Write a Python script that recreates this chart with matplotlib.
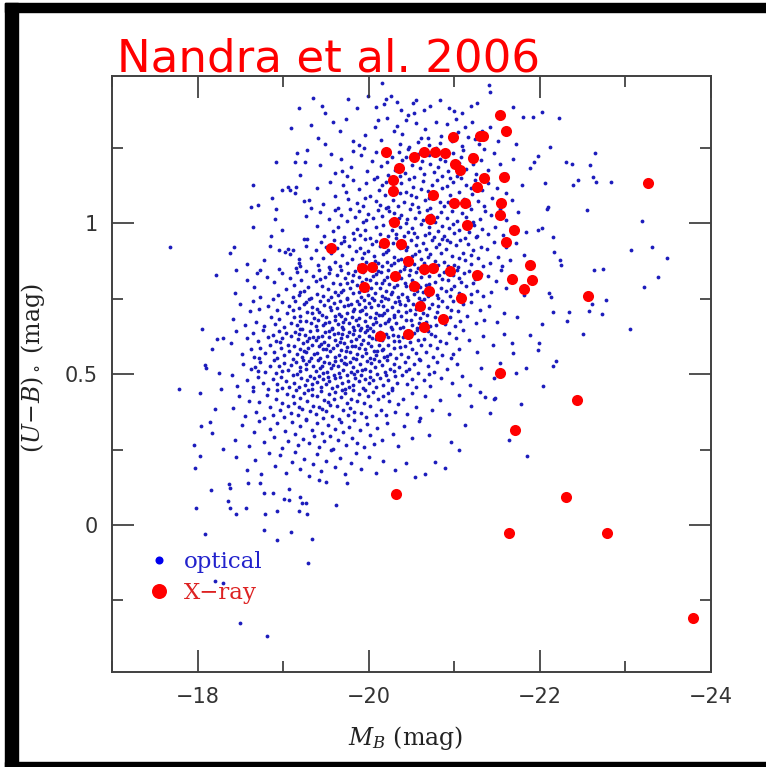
import matplotlib
matplotlib.use("Agg")
import matplotlib.pyplot as plt
import numpy as np
from matplotlib.lines import Line2D
from matplotlib.patches import Rectangle
from matplotlib.ticker import MultipleLocator, FuncFormatter

# optical galaxies (M_B, U-B)
optical_top = [
    (-20.16,1.464),(-21.41,1.458),(-21.42,1.436),(-19.35,1.416),(-19.76,1.412),(-19.99,1.423),
    (-20.20,1.412),(-20.26,1.423),(-20.33,1.403),(-19.18,1.382),(-19.45,1.389),(-19.86,1.382),
    (-20.09,1.386),(-20.18,1.395),(-20.38,1.376),(-20.53,1.366),(-20.46,1.359),(-20.65,1.376),
    (-20.72,1.389),(-20.94,1.383),(-21.00,1.372),(-21.09,1.367),(-21.20,1.389),(-21.26,1.399),
    (-21.69,1.386),(-22.03,1.369),(-22.23,1.349),(-21.80,1.352),(-20.55,1.409),(-20.83,1.409),
    (-19.49,1.366),(-20.52,1.399),(-22.12,1.253),(-21.92,1.352),
]

optical_upper = [
    (-19.41,1.283),(-19.58,1.334),(-19.49,1.262),(-19.66,1.307),(-19.81,1.271),(-19.73,1.346),
    (-19.89,1.258),(-20.07,1.319),(-19.96,1.292),(-20.11,1.341),(-20.14,1.276),(-20.29,1.305),
    (-20.21,1.349),(-20.36,1.263),(-20.33,1.322),(-20.39,1.297),(-20.47,1.254),(-20.55,1.331),
    (-20.61,1.284),(-20.44,1.343),(-20.58,1.268),(-20.66,1.312),(-20.71,1.259),(-20.79,1.337),
    (-20.85,1.289),(-20.69,1.281),(-20.83,1.266),(-20.92,1.328),(-20.97,1.272),(-21.04,1.301),
    (-21.09,1.256),(-21.02,1.345),(-21.12,1.318),(-21.16,1.287),(-21.21,1.335),(-21.29,1.262),
    (-21.33,1.306),(-21.24,1.279),(-21.42,1.318),(-21.51,1.271),(-21.61,1.296),(-21.72,1.264),
    (-19.43,1.193),(-19.56,1.228),(-19.61,1.167),(-19.67,1.214),(-19.74,1.158),(-19.82,1.241),
    (-19.79,1.186),(-19.69,1.172),(-19.91,1.226),(-19.98,1.174),(-20.04,1.207),(-20.10,1.152),
    (-19.94,1.248),(-20.08,1.235),(-20.14,1.189),(-20.18,1.243),(-20.23,1.161),(-20.27,1.218),
    (-20.31,1.178),(-20.35,1.236),(-20.21,1.203),(-20.37,1.157),(-20.39,1.211),(-20.42,1.166),
    (-20.46,1.246),(-20.50,1.194),(-20.53,1.153),(-20.57,1.229),(-20.60,1.182),(-20.44,1.221),
    (-20.62,1.207),(-20.64,1.163),(-20.68,1.238),(-20.72,1.197),(-20.76,1.171),(-20.79,1.249),
    (-20.83,1.213),(-20.86,1.158),(-20.70,1.226),(-20.81,1.185),(-20.89,1.207),(-20.93,1.173),
    (-20.98,1.232),(-21.03,1.155),(-21.06,1.199),(-21.10,1.244),(-20.95,1.151),(-21.08,1.218),
    (-21.14,1.181),(-21.19,1.227),(-21.25,1.164),(-21.31,1.209),(-21.35,1.246),(-21.22,1.196),
    (-21.40,1.176),(-21.46,1.233),(-21.54,1.198),(-21.60,1.162),(-21.69,1.214),
    (-19.40,1.118),(-19.47,1.064),(-19.55,1.137),(-19.60,1.089),(-19.64,1.052),(-19.70,1.126),
    (-19.76,1.081),(-19.81,1.143),(-19.86,1.067),(-19.73,1.104),(-19.89,1.115),(-19.93,1.058),
    (-19.97,1.132),(-20.01,1.091),(-20.06,1.147),(-20.09,1.073),(-20.12,1.109),(-19.95,1.084),
    (-20.13,1.061),(-20.16,1.128),(-20.19,1.095),(-20.22,1.054),(-20.25,1.141),(-20.28,1.077),
    (-20.31,1.118),(-20.34,1.058),(-20.36,1.099),(-20.20,1.136),(-20.38,1.134),(-20.41,1.071),
    (-20.44,1.102),(-20.47,1.146),(-20.50,1.063),(-20.52,1.121),(-20.55,1.087),(-20.58,1.053),
    (-20.61,1.113),(-20.49,1.094),(-20.63,1.139),(-20.66,1.076),(-20.69,1.108),(-20.72,1.052),
    (-20.74,1.127),(-20.77,1.091),(-20.80,1.145),(-20.83,1.069),(-20.86,1.116),(-20.71,1.083),
    (-20.88,1.057),(-20.91,1.124),(-20.95,1.093),(-20.98,1.138),(-21.02,1.068),(-21.05,1.103),
    (-21.08,1.149),(-21.11,1.081),(-20.93,1.072),(-21.14,1.128),(-21.17,1.061),(-21.21,1.097),
    (-21.24,1.142),(-21.28,1.074),(-21.32,1.111),(-21.35,1.056),(-21.19,1.118),(-21.39,1.132),
    (-21.44,1.083),(-21.50,1.117),(-21.55,1.059),(-21.61,1.101),(-21.67,1.076),(-21.79,1.128),
    (-19.39,0.992),(-19.43,1.036),(-19.48,0.958),(-19.53,1.013),(-19.58,0.974),(-19.61,1.045),
    (-19.64,0.987),(-19.67,1.028),(-19.71,0.953),(-19.74,1.008),(-19.78,1.047),(-19.81,0.969),
    (-19.84,1.021),(-19.86,0.981),(-19.88,1.039),(-19.90,0.961),(-19.93,1.004),(-19.96,0.977),
    (-19.99,1.032),(-20.02,0.952),(-20.05,1.016),(-20.08,0.989),(-20.11,1.043),(-19.97,1.011),
    (-20.13,0.966),(-20.15,1.024),(-20.17,0.994),(-20.20,1.049),(-20.22,0.957),(-20.25,1.007),
    (-20.27,0.978),(-20.30,1.035),(-20.32,0.963),(-20.35,1.018),(-20.37,0.986),(-20.24,1.041),
    (-20.38,1.028),(-20.41,0.959),(-20.43,1.002),(-20.46,0.972),(-20.48,1.046),(-20.51,0.983),
    (-20.54,1.019),(-20.56,0.954),(-20.59,1.037),(-20.61,0.996),(-20.45,1.013),(-20.53,0.968),
    (-20.63,1.011),(-20.66,0.962),(-20.68,1.044),(-20.71,0.988),(-20.73,1.026),(-20.76,0.956),
    (-20.78,1.003),(-20.81,0.975),(-20.84,1.038),(-20.86,0.991),(-20.70,0.969),(-20.80,1.021),
    (-20.88,0.958),(-20.91,1.017),(-20.94,0.984),(-20.97,1.042),(-21.00,0.967),(-21.03,1.009),
    (-21.06,0.979),(-21.09,1.034),(-21.12,0.952),(-20.99,0.998),(-21.14,1.022),(-21.17,0.971),
    (-21.20,1.046),(-21.23,0.993),(-21.27,0.958),(-21.30,1.014),(-21.33,0.981),(-21.36,1.039),
    (-21.22,1.003),(-21.39,0.966),(-21.43,1.027),(-21.48,0.989),(-21.53,1.048),(-21.57,0.961),
    (-21.61,1.012),(-21.66,0.983),(-21.74,1.036),(-21.84,0.972),
    (-19.38,0.912),(-19.41,0.863),(-19.44,0.937),(-19.47,0.884),(-19.50,0.921),(-19.53,0.856),
    (-19.56,0.903),(-19.59,0.944),(-19.61,0.872),(-19.63,0.917),(-19.66,0.858),(-19.69,0.894),
    (-19.71,0.941),(-19.74,0.868),(-19.77,0.926),(-19.80,0.881),(-19.83,0.948),(-19.85,0.907),
    (-19.68,0.933),(-19.88,0.862),(-19.90,0.918),(-19.92,0.886),(-19.95,0.947),(-19.97,0.871),
    (-19.99,0.909),(-20.02,0.853),(-20.04,0.931),(-20.06,0.893),(-20.09,0.942),(-20.11,0.867),
    (-19.94,0.902),(-20.07,0.876),(-20.13,0.924),(-20.15,0.857),(-20.17,0.899),(-20.19,0.945),
    (-20.21,0.873),(-20.23,0.913),(-20.26,0.861),(-20.28,0.936),(-20.30,0.889),(-20.32,0.951),
    (-20.34,0.878),(-20.36,0.919),(-20.20,0.904),(-20.29,0.868),(-20.38,0.883),(-20.40,0.939),
    (-20.42,0.859),(-20.44,0.911),(-20.46,0.874),(-20.49,0.946),(-20.51,0.893),(-20.53,0.866),
    (-20.55,0.928),(-20.57,0.852),(-20.59,0.907),(-20.61,0.881),(-20.45,0.922),(-20.54,0.898),
    (-20.63,0.936),(-20.65,0.869),(-20.67,0.914),(-20.70,0.854),(-20.72,0.897),(-20.74,0.943),
    (-20.77,0.876),(-20.79,0.921),(-20.81,0.862),(-20.84,0.903),(-20.86,0.949),(-20.69,0.887),
    (-20.82,0.931),(-20.88,0.871),(-20.90,0.916),(-20.93,0.858),(-20.95,0.938),(-20.97,0.892),
    (-21.00,0.863),(-21.02,0.927),(-21.05,0.884),(-21.07,0.946),(-21.10,0.901),(-20.92,0.943),
    (-21.04,0.856),(-21.13,0.877),(-21.16,0.932),(-21.19,0.866),(-21.22,0.911),(-21.25,0.953),
    (-21.28,0.885),(-21.31,0.923),(-21.34,0.859),(-21.20,0.896),(-21.38,0.914),(-21.42,0.867),
    (-21.47,0.938),(-21.51,0.889),(-21.56,0.857),(-21.60,0.921),(-21.65,0.879),(-21.72,0.934),
    (-21.82,0.894),
    (-18.38,0.90),(-18.42,0.92),(-18.57,0.865),(-18.45,0.845),(-18.21,0.83),(-18.62,1.054),
    (-18.71,1.06),(-18.64,0.988),(-18.73,0.845),(-18.78,0.878),(-18.86,0.958),(-18.92,1.047),
    (-18.90,1.014),(-18.87,1.084),(-18.99,0.978),(-18.98,1.11),(-19.06,1.12),(-19.08,1.11),
    (-19.14,1.10),(-19.15,1.12),(-19.19,1.16),(-18.91,1.203),(-19.14,1.203),(-19.25,1.203),
    (-19.28,1.243),(-19.16,1.233),(-18.65,1.127),(-19.09,1.316),(-19.32,1.326),(-17.67,0.921),
    (-19.24,1.074),(-19.26,1.024),(-19.30,1.077),(-19.32,1.05),(-19.24,0.948),(-19.28,0.948),
    (-19.27,0.925),(-18.95,0.91),(-19.02,0.905),(-19.11,0.91),(-19.08,0.898),(-19.06,0.915),
    (-19.18,0.88),(-19.20,0.858),(-19.15,0.852),(-19.18,0.868),(-18.95,0.85),(-19.32,0.885),
    (-18.84,0.925),
]

optical_core = [
    (-18.44,0.768),(-18.58,0.812),(-18.66,0.789),(-18.73,0.754),(-18.81,0.823),(-18.69,0.836),
    (-18.89,0.807),(-18.94,0.762),(-18.99,0.834),(-19.03,0.781),(-19.08,0.819),(-19.11,0.757),
    (-19.13,0.796),(-19.16,0.838),(-19.18,0.763),(-19.21,0.812),(-19.24,0.775),(-19.27,0.841),
    (-19.29,0.788),(-19.32,0.752),(-19.35,0.826),(-19.20,0.771),(-19.38,0.809),(-19.40,0.767),
    (-19.42,0.844),(-19.45,0.792),(-19.47,0.758),(-19.49,0.823),(-19.52,0.781),(-19.54,0.836),
    (-19.56,0.754),(-19.58,0.801),(-19.60,0.772),(-19.43,0.816),(-19.55,0.848),(-19.63,0.827),
    (-19.64,0.763),(-19.66,0.798),(-19.68,0.846),(-19.70,0.779),(-19.72,0.817),(-19.74,0.751),
    (-19.76,0.834),(-19.78,0.786),(-19.80,0.809),(-19.82,0.768),(-19.84,0.842),(-19.86,0.794),
    (-19.67,0.771),(-19.75,0.803),(-19.81,0.829),(-19.88,0.772),(-19.89,0.821),(-19.91,0.757),
    (-19.93,0.839),(-19.95,0.793),(-19.97,0.814),(-19.99,0.762),(-20.01,0.848),(-20.03,0.787),
    (-20.05,0.826),(-20.07,0.769),(-20.09,0.803),(-20.11,0.841),(-19.92,0.806),(-19.98,0.778),
    (-20.04,0.753),(-20.08,0.832),(-20.02,0.811),(-20.13,0.784),(-20.14,0.837),(-20.16,0.758),
    (-20.18,0.811),(-20.20,0.776),(-20.22,0.846),(-20.24,0.798),(-20.26,0.764),(-20.28,0.829),
    (-20.30,0.789),(-20.32,0.817),(-20.34,0.755),(-20.36,0.843),(-20.15,0.802),(-20.21,0.823),
    (-20.27,0.771),(-20.33,0.794),(-20.19,0.751),(-20.38,0.818),(-20.39,0.766),(-20.41,0.849),
    (-20.43,0.791),(-20.45,0.757),(-20.47,0.827),(-20.49,0.781),(-20.51,0.812),(-20.53,0.764),
    (-20.55,0.838),(-20.57,0.795),(-20.59,0.751),(-20.61,0.821),(-20.42,0.803),(-20.48,0.846),
    (-20.56,0.774),(-20.60,0.788),(-20.63,0.772),(-20.65,0.835),(-20.67,0.796),(-20.69,0.758),
    (-20.71,0.824),(-20.73,0.781),(-20.76,0.847),(-20.78,0.807),(-20.80,0.763),(-20.82,0.829),
    (-20.84,0.785),(-20.86,0.816),(-20.70,0.799),(-20.81,0.751),(-20.88,0.837),(-20.90,0.776),
    (-20.93,0.813),(-20.95,0.759),(-20.98,0.828),(-21.00,0.792),(-21.03,0.845),(-21.05,0.768),
    (-21.08,0.806),(-21.11,0.834),(-20.96,0.783),(-21.06,0.819),(-21.14,0.791),(-21.17,0.842),
    (-21.20,0.765),(-21.24,0.814),(-21.27,0.777),(-21.31,0.831),(-21.34,0.758),(-21.22,0.803),
    (-21.39,0.824),(-21.43,0.771),(-21.49,0.809),(-21.55,0.846),(-21.60,0.785),(-21.68,0.816),
    (-21.81,0.763),
    (-18.41,0.682),(-18.49,0.731),(-18.55,0.664),(-18.61,0.708),(-18.64,0.743),(-18.68,0.673),
    (-18.72,0.716),(-18.77,0.658),(-18.82,0.727),(-18.86,0.691),(-18.88,0.749),(-18.90,0.667),
    (-18.93,0.712),(-18.95,0.684),(-18.98,0.738),(-19.01,0.656),(-19.04,0.701),(-19.07,0.726),
    (-19.09,0.671),(-19.11,0.714),(-19.13,0.688),(-19.14,0.744),(-19.16,0.662),(-19.18,0.719),
    (-19.20,0.693),(-19.22,0.651),(-19.24,0.733),(-19.26,0.677),(-19.28,0.706),(-19.30,0.748),
    (-19.32,0.668),(-19.34,0.722),(-19.36,0.686),(-19.19,0.676),(-19.27,0.739),(-19.33,0.701),
    (-19.38,0.658),(-19.39,0.716),(-19.41,0.681),(-19.43,0.741),(-19.45,0.697),(-19.47,0.663),
    (-19.48,0.728),(-19.50,0.689),(-19.52,0.747),(-19.54,0.672),(-19.56,0.711),(-19.57,0.654),
    (-19.59,0.736),(-19.61,0.694),(-19.42,0.706),(-19.49,0.669),(-19.55,0.723),(-19.60,0.681),
    (-19.63,0.719),(-19.64,0.666),(-19.66,0.742),(-19.67,0.692),(-19.69,0.657),(-19.71,0.726),
    (-19.72,0.684),(-19.74,0.749),(-19.75,0.703),(-19.77,0.671),(-19.79,0.734),(-19.80,0.689),
    (-19.82,0.655),(-19.83,0.717),(-19.85,0.678),(-19.86,0.744),(-19.65,0.698),(-19.70,0.673),
    (-19.76,0.728),(-19.81,0.708),(-19.87,0.662),(-19.88,0.731),(-19.89,0.687),(-19.91,0.652),
    (-19.92,0.712),(-19.94,0.746),(-19.95,0.676),(-19.97,0.699),(-19.98,0.661),(-20.00,0.737),
    (-20.02,0.691),(-20.03,0.723),(-20.05,0.667),(-20.06,0.745),(-20.08,0.704),(-20.09,0.674),
    (-20.11,0.729),(-19.90,0.708),(-19.96,0.721),(-20.01,0.653),(-20.07,0.686),(-20.12,0.696),
    (-20.13,0.662),(-20.14,0.741),(-20.16,0.695),(-20.17,0.727),(-20.19,0.668),(-20.21,0.712),
    (-20.22,0.749),(-20.24,0.683),(-20.26,0.656),(-20.27,0.721),(-20.29,0.697),(-20.31,0.738),
    (-20.32,0.671),(-20.34,0.709),(-20.36,0.653),(-20.37,0.731),(-20.18,0.704),(-20.23,0.676),
    (-20.30,0.688),(-20.35,0.744),(-20.38,0.694),(-20.40,0.657),(-20.42,0.728),(-20.44,0.681),
    (-20.46,0.746),(-20.48,0.712),(-20.50,0.664),(-20.52,0.733),(-20.54,0.698),(-20.56,0.652),
    (-20.58,0.721),(-20.60,0.687),(-20.61,0.742),(-20.43,0.706),(-20.49,0.679),(-20.55,0.716),
    (-20.59,0.669),(-20.63,0.703),(-20.65,0.748),(-20.67,0.672),(-20.70,0.719),(-20.72,0.658),
    (-20.74,0.734),(-20.77,0.691),(-20.79,0.664),(-20.81,0.727),(-20.84,0.685),(-20.86,0.742),
    (-20.68,0.696),(-20.80,0.706),(-20.89,0.667),(-20.92,0.724),(-20.95,0.688),(-20.98,0.741),
    (-21.01,0.659),(-21.04,0.709),(-21.07,0.676),(-21.10,0.732),(-20.96,0.713),(-21.15,0.693),
    (-21.20,0.739),(-21.25,0.668),(-21.30,0.714),(-21.35,0.681),(-21.41,0.726),(-21.50,0.674),
    (-21.58,0.703),(-21.73,0.688),
    (-18.39,0.604),(-18.45,0.642),(-18.52,0.566),(-18.57,0.621),(-18.62,0.583),(-18.64,0.638),
    (-18.66,0.557),(-18.70,0.611),(-18.73,0.587),(-18.76,0.646),(-18.79,0.571),(-18.82,0.624),
    (-18.85,0.596),(-18.72,0.553),(-18.88,0.631),(-18.89,0.574),(-18.91,0.609),(-18.93,0.553),
    (-18.95,0.644),(-18.97,0.588),(-18.99,0.619),(-19.01,0.562),(-19.03,0.637),(-19.05,0.596),
    (-19.07,0.578),(-19.09,0.627),(-19.11,0.551),(-18.96,0.607),(-19.13,0.592),(-19.14,0.641),
    (-19.16,0.567),(-19.17,0.616),(-19.19,0.584),(-19.20,0.648),(-19.22,0.556),(-19.23,0.603),
    (-19.25,0.629),(-19.26,0.572),(-19.28,0.611),(-19.29,0.587),(-19.31,0.643),(-19.32,0.553),
    (-19.34,0.598),(-19.35,0.624),(-19.36,0.566),(-19.18,0.634),(-19.24,0.578),(-19.30,0.619),
    (-19.38,0.613),(-19.39,0.571),(-19.40,0.646),(-19.42,0.594),(-19.43,0.552),(-19.45,0.628),
    (-19.46,0.583),(-19.48,0.607),(-19.49,0.639),(-19.51,0.561),(-19.52,0.598),(-19.54,0.622),
    (-19.55,0.576),(-19.57,0.649),(-19.58,0.588),(-19.60,0.614),(-19.61,0.557),(-19.41,0.622),
    (-19.44,0.601),(-19.50,0.584),(-19.53,0.644),(-19.59,0.632),(-19.63,0.597),(-19.64,0.636),
    (-19.65,0.562),(-19.67,0.619),(-19.68,0.581),(-19.70,0.648),(-19.71,0.603),(-19.72,0.557),
    (-19.74,0.627),(-19.75,0.589),(-19.77,0.641),(-19.78,0.572),(-19.79,0.611),(-19.81,0.552),
    (-19.82,0.633),(-19.84,0.594),(-19.85,0.618),(-19.86,0.568),(-19.66,0.606),(-19.69,0.633),
    (-19.73,0.578),(-19.80,0.592),(-19.83,0.647),(-19.88,0.628),(-19.89,0.587),(-19.90,0.646),
    (-19.92,0.559),(-19.93,0.612),(-19.95,0.584),(-19.96,0.639),(-19.97,0.571),(-19.99,0.603),
    (-20.00,0.626),(-20.02,0.554),(-20.03,0.593),(-20.05,0.644),(-20.06,0.577),(-20.08,0.616),
    (-20.09,0.562),(-20.11,0.631),(-20.12,0.598),(-19.91,0.601),(-19.98,0.647),(-20.04,0.621),
    (-20.10,0.576),(-20.13,0.641),(-20.15,0.579),(-20.16,0.613),(-20.18,0.556),(-20.20,0.634),
    (-20.22,0.597),(-20.23,0.622),(-20.25,0.566),(-20.27,0.648),(-20.29,0.588),(-20.30,0.609),
    (-20.32,0.553),(-20.34,0.627),(-20.36,0.591),(-20.17,0.584),(-20.21,0.561),(-20.28,0.631),
    (-20.35,0.609),(-20.38,0.567),(-20.40,0.623),(-20.42,0.594),(-20.44,0.641),(-20.46,0.558),
    (-20.48,0.607),(-20.50,0.582),(-20.53,0.636),(-20.55,0.571),(-20.57,0.614),(-20.59,0.551),
    (-20.61,0.598),(-20.47,0.629),(-20.56,0.647),(-20.64,0.618),(-20.67,0.574),(-20.69,0.642),
    (-20.72,0.596),(-20.75,0.556),(-20.77,0.627),(-20.80,0.587),(-20.83,0.611),(-20.86,0.564),
    (-20.73,0.634),(-20.90,0.603),(-20.94,0.637),(-20.98,0.568),(-21.02,0.619),(-21.06,0.584),
    (-21.10,0.646),(-20.96,0.552),(-21.17,0.612),(-21.26,0.573),(-21.34,0.628),(-21.45,0.596),
    (-21.58,0.634),
    (-18.40,0.497),(-18.46,0.462),(-18.53,0.534),(-18.58,0.481),(-18.62,0.518),(-18.64,0.456),
    (-18.67,0.523),(-18.70,0.489),(-18.73,0.541),(-18.76,0.472),(-18.79,0.506),(-18.82,0.451),
    (-18.85,0.528),(-18.71,0.512),(-18.88,0.484),(-18.89,0.547),(-18.91,0.503),(-18.93,0.468),
    (-18.95,0.526),(-18.97,0.491),(-18.99,0.453),(-19.01,0.538),(-19.03,0.477),(-19.05,0.514),
    (-19.07,0.459),(-19.09,0.531),(-19.11,0.496),(-18.98,0.512),(-19.13,0.472),(-19.15,0.539),
    (-19.16,0.501),(-19.18,0.457),(-19.20,0.524),(-19.21,0.486),(-19.23,0.548),(-19.25,0.463),
    (-19.26,0.517),(-19.28,0.479),(-19.30,0.543),(-19.31,0.494),(-19.33,0.452),(-19.35,0.528),
    (-19.36,0.488),(-19.19,0.509),(-19.27,0.532),(-19.34,0.468),(-19.38,0.512),(-19.39,0.474),
    (-19.41,0.546),(-19.42,0.493),(-19.44,0.458),(-19.45,0.527),(-19.47,0.483),(-19.48,0.541),
    (-19.50,0.467),(-19.51,0.508),(-19.53,0.536),(-19.54,0.476),(-19.56,0.519),(-19.57,0.453),
    (-19.59,0.498),(-19.60,0.544),(-19.61,0.487),(-19.43,0.519),(-19.46,0.504),(-19.52,0.491),
    (-19.58,0.529),(-19.63,0.462),(-19.64,0.526),(-19.66,0.489),(-19.67,0.547),(-19.69,0.471),
    (-19.70,0.513),(-19.72,0.452),(-19.73,0.534),(-19.75,0.496),(-19.76,0.478),(-19.78,0.541),
    (-19.79,0.506),(-19.81,0.464),(-19.82,0.523),(-19.84,0.487),(-19.85,0.549),(-19.86,0.509),
    (-19.65,0.503),(-19.71,0.537),(-19.77,0.459),(-19.83,0.501),(-19.88,0.476),(-19.90,0.532),
    (-19.91,0.497),(-19.93,0.455),(-19.95,0.518),(-19.96,0.484),(-19.98,0.545),(-20.00,0.469),
    (-20.02,0.511),(-20.03,0.537),(-20.05,0.481),(-20.07,0.523),(-20.08,0.458),(-20.10,0.502),
    (-20.12,0.544),(-19.92,0.514),(-20.01,0.492),(-20.06,0.549),(-20.13,0.487),(-20.15,0.529),
    (-20.17,0.463),(-20.19,0.508),(-20.21,0.546),(-20.23,0.479),(-20.25,0.517),(-20.27,0.454),
    (-20.29,0.535),(-20.31,0.493),(-20.33,0.472),(-20.35,0.524),(-20.20,0.498),(-20.30,0.511),
    (-20.39,0.496),(-20.42,0.541),(-20.45,0.468),(-20.47,0.518),(-20.50,0.483),(-20.53,0.533),
    (-20.55,0.457),(-20.58,0.504),(-20.60,0.546),(-20.44,0.511),(-20.65,0.479),(-20.69,0.526),
    (-20.72,0.462),(-20.76,0.508),(-20.80,0.541),(-20.84,0.486),(-20.70,0.499),(-20.91,0.517),
    (-20.97,0.471),(-21.03,0.532),(-21.09,0.494),(-21.18,0.463),(-21.31,0.519),(-21.46,0.488),
]

optical_lower = [
    (-18.41,0.387),(-18.48,0.426),(-18.55,0.362),(-18.60,0.411),(-18.64,0.443),(-18.68,0.374),
    (-18.72,0.408),(-18.77,0.356),(-18.81,0.431),(-18.85,0.392),(-18.88,0.364),(-18.91,0.418),
    (-18.93,0.447),(-18.96,0.381),(-18.98,0.403),(-19.01,0.357),(-19.04,0.434),(-19.06,0.396),
    (-19.09,0.371),(-19.11,0.426),(-19.13,0.403),(-19.15,0.448),(-19.17,0.366),(-19.20,0.421),
    (-19.22,0.384),(-19.24,0.439),(-19.26,0.353),(-19.28,0.412),(-19.31,0.377),(-19.33,0.431),
    (-19.35,0.395),(-19.18,0.392),(-19.29,0.446),(-19.38,0.368),(-19.40,0.427),(-19.42,0.391),
    (-19.44,0.445),(-19.46,0.356),(-19.48,0.413),(-19.50,0.379),(-19.53,0.434),(-19.55,0.398),
    (-19.57,0.362),(-19.59,0.418),(-19.61,0.441),(-19.45,0.386),(-19.52,0.407),(-19.63,0.393),
    (-19.65,0.352),(-19.67,0.424),(-19.70,0.381),(-19.72,0.437),(-19.74,0.404),(-19.76,0.365),
    (-19.79,0.419),(-19.81,0.448),(-19.83,0.376),(-19.86,0.411),(-19.69,0.447),(-19.78,0.389),
    (-19.88,0.433),(-19.91,0.371),(-19.94,0.406),(-19.97,0.358),(-19.99,0.428),(-20.02,0.393),
    (-20.05,0.441),(-20.08,0.364),(-20.11,0.416),(-19.96,0.449),(-20.14,0.381),(-20.17,0.429),
    (-20.20,0.364),(-20.24,0.411),(-20.27,0.446),(-20.31,0.373),(-20.34,0.402),(-20.22,0.437),
    (-20.40,0.419),(-20.45,0.367),(-20.50,0.438),(-20.55,0.391),(-20.60,0.354),(-20.66,0.427),
    (-20.74,0.382),(-20.83,0.413),(-20.94,0.368),(-21.06,0.431),(-21.20,0.394),
    (-18.43,0.283),(-18.52,0.331),(-18.60,0.262),(-18.66,0.307),(-18.72,0.346),(-18.78,0.274),
    (-18.84,0.318),(-18.89,0.291),(-18.93,0.338),(-18.98,0.256),(-19.02,0.313),(-19.06,0.279),
    (-19.10,0.342),(-19.14,0.302),(-19.17,0.264),(-19.20,0.327),(-19.23,0.286),(-19.27,0.349),
    (-19.30,0.271),(-19.33,0.316),(-19.36,0.295),(-19.39,0.338),(-19.42,0.259),(-19.45,0.305),
    (-19.48,0.277),(-19.52,0.331),(-19.55,0.294),(-19.58,0.253),(-19.61,0.319),(-19.64,0.282),
    (-19.67,0.343),(-19.70,0.308),(-19.73,0.265),(-19.77,0.326),(-19.80,0.289),(-19.83,0.347),
    (-19.86,0.271),(-19.90,0.316),(-19.94,0.258),(-19.98,0.334),(-20.02,0.297),(-20.06,0.268),
    (-20.10,0.323),(-20.15,0.281),(-20.21,0.339),(-20.28,0.302),(-20.34,0.262),(-20.41,0.327),
    (-20.50,0.288),(-20.59,0.344),(-20.71,0.297),(-20.96,0.276),
    (-18.45,0.227),(-18.58,0.183),(-18.67,0.214),(-18.74,0.168),(-18.83,0.238),(-18.90,0.196),
    (-18.96,0.231),(-19.03,0.172),(-19.10,0.209),(-19.14,0.243),(-19.19,0.186),(-19.24,0.219),
    (-19.30,0.164),(-19.35,0.201),(-19.39,0.234),(-19.44,0.178),(-19.50,0.212),(-19.56,0.247),
    (-19.61,0.191),(-19.66,0.223),(-19.72,0.169),(-19.79,0.206),(-19.85,0.239),(-19.91,0.187),
    (-20.00,0.226),(-20.08,0.174),(-20.17,0.213),(-20.31,0.181),(-20.44,0.204),
    (-18.16,0.116),(-17.98,0.056),(-18.09,-0.03),(-18.49,-0.325),(-18.81,-0.368),(-18.20,-0.186),
    (-18.29,-0.192),(-18.37,0.136),(-18.38,0.123),(-18.59,0.139),(-18.73,0.139),(-18.78,0.106),
    (-18.88,0.106),(-18.35,0.08),(-18.38,0.056),(-18.56,0.056),(-18.45,0.036),(-18.79,0.036),
    (-18.93,0.046),(-19.01,0.086),(-19.07,0.083),(-19.07,0.119),(-19.20,0.093),(-19.22,0.073),
    (-19.26,0.073),(-19.18,0.046),(-19.28,0.036),(-18.78,-0.017),(-19.09,-0.023),(-18.93,-0.05),
    (-19.33,-0.046),(-19.29,-0.126),(-19.42,0.149),(-19.50,0.143),(-19.74,0.139),(-19.62,0.066),
    (-20.54,0.159),
    (-17.78,0.45),(-18.05,0.65),(-17.96,0.264),(-17.97,0.19),(-18.03,0.229),(-18.02,0.437),
    (-18.04,0.328),(-18.09,0.53),(-18.10,0.52),(-18.17,0.305),(-18.14,0.341),(-18.17,0.583),
    (-18.20,0.385),(-18.23,0.617),(-18.29,0.62),(-18.29,0.252),(-18.25,0.504),(-18.27,0.45),
]

optical_right = [
    (-22.31,1.203),(-22.38,1.197),(-22.59,1.193),(-22.65,1.233),(-22.39,1.127),(-22.45,1.143),
    (-22.62,1.153),(-22.66,1.137),(-22.83,1.137),(-22.55,1.044),(-23.19,1.008),(-23.07,0.912),
    (-23.31,0.922),(-23.49,0.885),(-22.64,0.845),(-22.74,0.849),(-23.38,0.822),(-23.22,0.789),
    (-22.78,0.746),(-22.61,0.733),(-22.73,0.699),(-22.58,0.709),(-22.34,0.706),(-22.32,0.676),
    (-22.51,0.633),(-23.06,0.65),(-22.19,0.544),(-22.16,0.527),(-22.04,0.461),(-21.78,0.401),
    (-21.64,0.282),(-21.85,0.229),(-21.89,1.183),(-21.93,1.203),(-21.98,1.223),(-22.06,1.134),
    (-22.10,1.054),(-22.09,1.047),(-22.03,0.984),(-21.98,0.978),(-22.16,0.955),(-22.24,0.878),
    (-22.25,0.862),(-22.17,0.905),(-22.11,0.769),(-22.13,0.756),(-22.16,0.706),(-22.03,0.666),
    (-21.99,0.603),(-21.98,0.58),(-21.89,0.63),(-21.84,0.52),(-21.72,0.504),(-21.54,0.537),
    (-21.48,0.421),(-21.36,0.424),(-21.69,0.57),(-21.68,0.603),(-21.30,0.44),(-21.12,0.33),
    (-21.05,0.25),(-20.78,0.21),(-20.66,0.17),(-20.89,0.19),(-21.42,0.37),(-21.47,0.419),
]

# X-ray selected sources
xray_mb = [
    -21.54, -21.60, -20.99, -21.30, -21.34, -20.20, -20.53, -20.64, -20.77, -20.89,
    -21.22, -21.01, -21.07, -20.35, -20.28, -20.28, -21.35, -21.58, -21.26, -20.75,
    -21.00, -21.13, -21.55, -21.53, -20.29, -20.72, -21.15, -21.70, -21.61, -19.56,
    -20.18, -20.38, -21.89, -20.46, -19.92, -20.04, -20.31, -20.64, -20.75, -20.95,
    -21.27, -21.67, -21.91, -21.81, -19.94, -20.53, -20.71, -21.08, -20.60, -20.87,
    -20.64, -20.13, -20.46, -23.27, -22.56, -21.54, -22.44, -21.71, -22.31, -21.64,
    -22.79, -23.79, -20.32,
]
xray_ub = [
    1.359, 1.306, 1.286, 1.289, 1.289, 1.236, 1.220, 1.236, 1.236, 1.233,
    1.216, 1.197, 1.177, 1.183, 1.144, 1.107, 1.150, 1.153, 1.120, 1.094,
    1.067, 1.067, 1.067, 1.028, 1.004, 1.014, 0.994, 0.978, 0.938, 0.918,
    0.935, 0.931, 0.862, 0.875, 0.852, 0.855, 0.825, 0.849, 0.852, 0.842,
    0.829, 0.815, 0.812, 0.782, 0.789, 0.792, 0.776, 0.752, 0.726, 0.683,
    0.656, 0.626, 0.633, 1.134, 0.759, 0.504, 0.414, 0.315, 0.093, -0.027,
    -0.027, -0.308, 0.103,
]

optical = np.array(optical_top + optical_upper + optical_core + optical_lower + optical_right)

plt.rcParams["mathtext.fontset"] = "dejavuserif"

fig = plt.figure(figsize=(7.66, 7.67), dpi=100)
ax = fig.add_axes([0.1466, 0.1235, 0.7813, 0.7774])

ax.scatter(optical[:, 0], optical[:, 1], s=7.5, c="#1c1cbc", linewidths=0, zorder=1)
ax.scatter(xray_mb, xray_ub, s=64, c="#ff0000", linewidths=0, zorder=2)

ax.set_xlim(-17, -24)
ax.set_ylim(-0.488, 1.488)

fmt = FuncFormatter(lambda v, pos: f"{v:g}".replace("-", "\u2212"))
ax.xaxis.set_major_locator(MultipleLocator(2))
ax.xaxis.set_minor_locator(MultipleLocator(1))
ax.yaxis.set_major_locator(MultipleLocator(0.5))
ax.yaxis.set_minor_locator(MultipleLocator(0.25))
ax.xaxis.set_major_formatter(fmt)
ax.yaxis.set_major_formatter(fmt)
ax.tick_params(which="both", direction="in", top=True, right=True,
               color="#333333", labelcolor="#333333", labelsize=15, width=1.2)
ax.tick_params(which="major", length=16, pad=10.5)
ax.tick_params(which="minor", length=8)
for sp in ax.spines.values():
    sp.set_linewidth(1.4)
    sp.set_color("#404040")

ax.set_xlabel(r"$M_B$ (mag)", fontsize=17, family="DejaVu Serif", color="#222222")
ax.xaxis.set_label_coords(0.49, -0.086)
ax.set_ylabel(r"$(U\!-\!B)_\circ$ (mag)", fontsize=17, family="DejaVu Serif", color="#222222")
ax.yaxis.set_label_coords(-0.109, 0.51)

handles = [
    Line2D([], [], ls="none", marker="o", ms=5.8, mfc="#0000ee", mec="none"),
    Line2D([], [], ls="none", marker="o", ms=10.8, mfc="#ff0000", mec="none"),
]
leg = ax.legend(handles, ["optical", "X\u2212ray"], loc="lower left",
                bbox_to_anchor=(0.0614, 0.1137), frameon=False,
                prop={"family": "DejaVu Serif", "size": 16.5},
                handlelength=0.9, handletextpad=0.6, labelspacing=0.42,
                borderpad=0, borderaxespad=0)
leg.get_texts()[0].set_color("#2222cc")
leg.get_texts()[1].set_color("#dd2222")

fig.text(0.153, 0.9074, "Nandra et al. 2006", color="#ff0000", fontsize=32.5,
         family="DejaVu Sans", va="baseline", ha="left")

# slide frame
fig.patches.append(Rectangle((0.0065, 0.9844), 0.9935, 0.0117, transform=fig.transFigure,
                             color="black", zorder=0))
fig.patches.append(Rectangle((0.0065, 0.0), 0.017, 0.9961, transform=fig.transFigure,
                             color="black", zorder=0))
fig.patches.append(Rectangle((0.0065, 0.0), 0.9935, 0.0065, transform=fig.transFigure,
                             color="black", zorder=0))

fig.savefig("out.png", dpi=100)
